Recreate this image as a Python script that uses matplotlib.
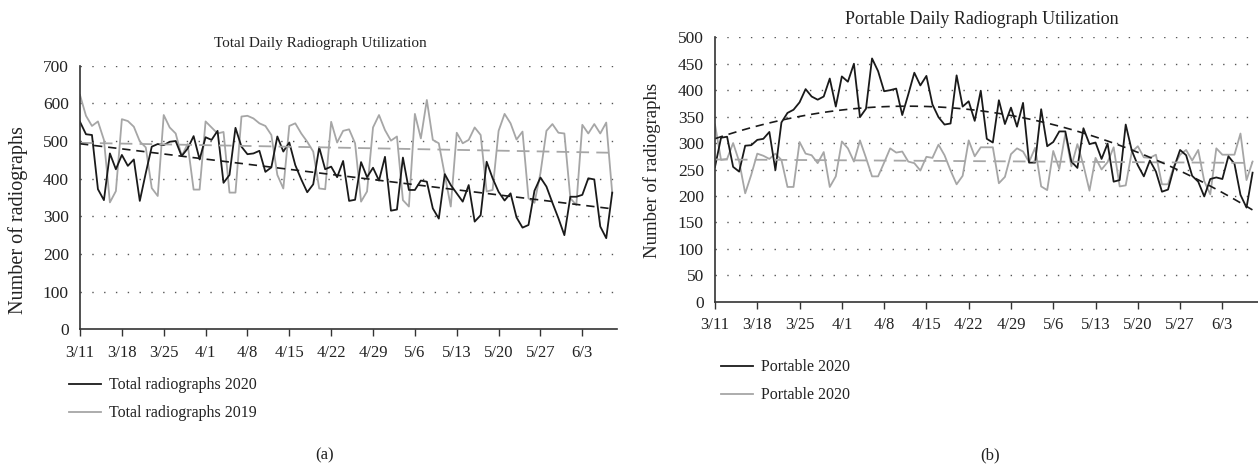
import numpy as np
import matplotlib
matplotlib.use('Agg')
import matplotlib.pyplot as plt
from matplotlib.lines import Line2D

plt.rcParams['font.family'] = ['Liberation Serif', 'DejaVu Serif']

# daily counts 3/11 .. 6/8
total_2020 = [551, 518, 516, 372, 343, 467, 425, 463, 434, 451,
              341, 415, 485, 492, 489, 498, 500, 460, 480, 513,
              451, 510, 503, 527, 389, 410, 535, 485, 465, 467,
              474, 418, 430, 512, 472, 496, 436, 398, 364, 385,
              483, 425, 432, 404, 447, 341, 344, 444, 404, 429,
              395, 458, 315, 318, 456, 370, 370, 395, 392, 321,
              294, 412, 383, 361, 339, 383, 286, 303, 445, 401,
              365, 342, 361, 297, 270, 277, 368, 403, 379, 336,
              295, 250, 352, 352, 357, 401, 398, 273, 242, 363]
total_2019 = [622, 567, 540, 552, 503, 337, 367, 558, 553, 538,
              499, 483, 375, 354, 569, 536, 520, 460, 492, 371,
              371, 552, 536, 520, 524, 363, 363, 565, 567, 560,
              547, 540, 516, 410, 374, 540, 547, 520, 498, 472,
              374, 372, 551, 496, 527, 531, 494, 339, 366, 536,
              569, 529, 501, 512, 343, 326, 572, 507, 609, 503,
              494, 410, 326, 522, 494, 503, 536, 516, 366, 370,
              527, 572, 547, 504, 525, 348, 336, 415, 527, 545,
              522, 520, 348, 330, 543, 520, 545, 520, 549, 362]
portable_2020 = [255, 310, 312, 255, 246, 295, 296, 306, 308, 321,
                 249, 339, 357, 363, 377, 402, 388, 382, 388, 422,
                 369, 426, 416, 450, 349, 365, 460, 436, 398, 400,
                 403, 353, 392, 433, 409, 427, 373, 349, 335, 337,
                 428, 369, 379, 342, 399, 308, 301, 381, 336, 367,
                 331, 376, 263, 263, 364, 294, 302, 322, 322, 265,
                 253, 328, 298, 301, 270, 299, 227, 230, 335, 286,
                 258, 237, 267, 246, 208, 212, 254, 287, 277, 238,
                 227, 199, 232, 235, 232, 275, 261, 202, 178, 244]
portable_2019 = [335, 268, 270, 300, 265, 205, 240, 280, 276, 270,
                 280, 268, 217, 217, 302, 280, 277, 262, 283, 217,
                 237, 303, 290, 265, 305, 272, 237, 237, 263, 290,
                 282, 284, 265, 262, 248, 274, 272, 297, 277, 248,
                 222, 238, 305, 275, 292, 292, 292, 224, 236, 279,
                 290, 284, 264, 291, 218, 211, 285, 251, 318, 256,
                 298, 258, 210, 272, 250, 264, 292, 218, 220, 283,
                 294, 273, 272, 278, 222, 222, 257, 278, 287, 267,
                 287, 228, 203, 290, 278, 278, 278, 318, 230, 265]
week_labels = ['3/11', '3/18', '3/25', '4/1', '4/8', '4/15', '4/22',
               '4/29', '5/6', '5/13', '5/20', '5/27', '6/3']

BLACK = '#1a1a1a'
GRAY = '#a6a6a6'
TXT = '#222222'

fig = plt.figure(figsize=(12.58, 4.70), dpi=100)
ax1 = fig.add_axes([80/1258, 1-329.3/470, 537/1258, 263.6/470])
ax2 = fig.add_axes([715/1258, 1-301.7/470, 543/1258, 264.4/470])


def style_axis(ax, ymax, ystep):
    ax.set_xlim(0, 89.8)
    ax.set_ylim(0, ymax)
    ax.set_yticks(np.arange(0, ymax + 1, ystep))
    ax.set_xticks(np.arange(0, 85, 7))
    ax.set_xticklabels(week_labels)
    for s in ['top', 'right']:
        ax.spines[s].set_visible(False)
    for s in ['left', 'bottom']:
        ax.spines[s].set_color('#333333')
        ax.spines[s].set_linewidth(1.2)
    ax.tick_params(axis='y', length=0, pad=8, labelsize=12.5, colors=TXT)
    ax.tick_params(axis='x', length=5, width=1, pad=6, labelsize=12,
                   colors='#333333', labelcolor=TXT)
    for yv in np.arange(ystep, ymax + 1, ystep):
        ax.axhline(yv, color='#555555', lw=1.0, ls=(0, (1, 7.5)), zorder=0)


def trend(y, deg):
    x = np.arange(len(y))
    return np.polyval(np.polyfit(x, y, deg), x)


x = np.arange(len(total_2020))

# (a) total
ax1.plot(x, total_2019, color=GRAY, lw=1.3)
ax1.plot(x, total_2020, color=BLACK, lw=1.3)
ax1.plot(x, trend(total_2019, 1), color=GRAY, lw=1.3, ls=(0, (7, 4)))
ax1.plot(x, trend(total_2020, 1), color=BLACK, lw=1.2, ls=(0, (5, 3.5)))
style_axis(ax1, 700, 100)
fig.text(320/1258, 1-43/470, 'Total Daily Radiograph Utilization',
         ha='center', va='center', fontsize=11, color=TXT)
fig.text(18/1258, 1-220/470, 'Number of radiographs', rotation=90,
         ha='center', va='center', fontsize=14.5, color=TXT)

# (b) portable
ax2.plot(x, portable_2019, color=GRAY, lw=1.3)
ax2.plot(x, portable_2020, color=BLACK, lw=1.3)
ax2.plot(x, trend(portable_2019, 1), color=GRAY, lw=1.3, ls=(0, (7, 4)))
ax2.plot(x, trend(portable_2020, 2), color=BLACK, lw=1.2, ls=(0, (5, 3.5)))
style_axis(ax2, 500, 50)
ax2.set_xlim(0, 89.9)
fig.text(982/1258, 1-19/470, 'Portable Daily Radiograph Utilization',
         ha='center', va='center', fontsize=13, color=TXT)
fig.text(652/1258, 1-170/470, 'Number of radiographs', rotation=90,
         ha='center', va='center', fontsize=13.5, color=TXT)

# legends
h_a = [Line2D([], [], color=BLACK, lw=1.3), Line2D([], [], color=GRAY, lw=1.3)]
fig.legend(h_a, ['Total radiographs 2020', 'Total radiographs 2019'],
           loc='upper left', bbox_to_anchor=(55/1258, 1-363/470), frameon=False,
           fontsize=11.5, handlelength=2.0, handletextpad=0.5, labelspacing=0.75,
           labelcolor=TXT)
fig.legend(h_a, ['Portable 2020', 'Portable 2020'],
           loc='upper left', bbox_to_anchor=(707/1258, 1-345/470), frameon=False,
           fontsize=11.5, handlelength=2.0, handletextpad=0.5, labelspacing=0.75,
           labelcolor=TXT)

fig.text(325/1258, 1-455/470, '(a)', ha='center', va='center', fontsize=12, color=TXT)
fig.text(990/1258, 1-455/470, '(b)', ha='center', va='center', fontsize=12, color=TXT)

fig.savefig('out.png', dpi=100)
